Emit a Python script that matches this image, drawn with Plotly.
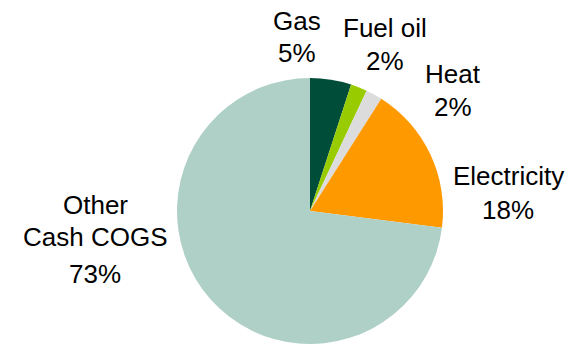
import plotly.graph_objects as go

# Cash cost-of-goods-sold breakdown
categories = ["Gas", "Fuel oil", "Heat", "Electricity", "Other<br>Cash COGS"]
shares = [5, 2, 2, 18, 73]
colors = ["#004d3a", "#99cc00", "#dcdcdc", "#ff9900", "#afd0c6"]

W, H = 579, 344

fig = go.Figure(
    go.Pie(
        labels=categories,
        values=shares,
        sort=False,
        direction="clockwise",
        rotation=0,
        textinfo="none",
        hoverinfo="label+percent",
        marker=dict(colors=colors, line=dict(width=0)),
        domain=dict(x=[177 / W, 443 / W], y=[0, 266 / H]),
        showlegend=False,
    )
)

# label placement (pixel centres of the name line and the share line)
label_pos = [
    (297, 21, 53),
    (385, 28, 61),
    (453, 74, 107),
    (508, 176, 210),
    (95, 205, 274),
]

font = dict(family="Liberation Sans, Arial, sans-serif", size=26, color="#000000")


def put(text, x, y):
    fig.add_annotation(x=x / W, y=1 - y / H, text=text, showarrow=False,
                       xref="paper", yref="paper", xanchor="center", yanchor="middle",
                       font=font)


for name, val, (x, y_name, y_val) in zip(categories, shares, label_pos):
    lines = name.split("<br>")
    for i, line in enumerate(lines):
        put(line, x, y_name + 32 * i)
    put(f"{val}%", x, y_val)

fig.update_layout(
    width=W,
    height=H,
    margin=dict(l=0, r=0, t=0, b=0),
    paper_bgcolor="white",
    plot_bgcolor="white",
)

fig.write_html("out.html")
